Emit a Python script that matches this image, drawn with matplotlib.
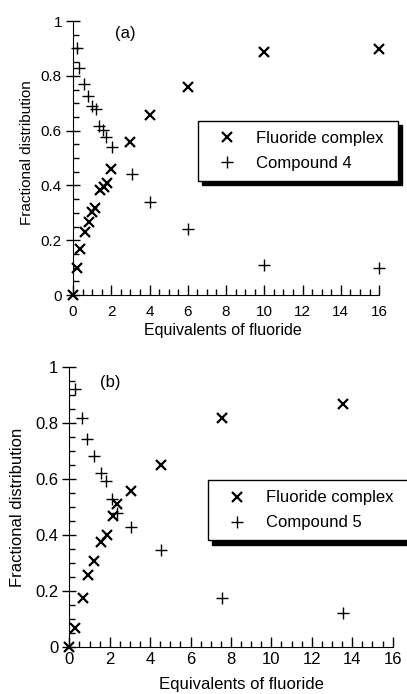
import matplotlib
matplotlib.use("Agg")
import matplotlib.pyplot as plt
from matplotlib.ticker import MultipleLocator

plt.rcParams['font.family'] = ['Liberation Sans', 'DejaVu Sans']

# Panel (a)
a_fc_x = [0, 0.23, 0.37, 0.61, 0.82, 1.0, 1.17, 1.41, 1.62, 1.76, 2.0, 3.0, 4.0, 6.0, 10.0, 16.0]
a_fc_y = [0, 0.097, 0.167, 0.231, 0.268, 0.304, 0.316, 0.383, 0.395, 0.408, 0.459, 0.56, 0.657, 0.76, 0.888, 0.897]
a_c4_x = [0.19, 0.33, 0.58, 0.78, 1.0, 1.2, 1.38, 1.55, 1.73, 2.02, 3.07, 4.03, 6.0, 10.0, 16.0]
a_c4_y = [0.90, 0.83, 0.77, 0.727, 0.69, 0.678, 0.617, 0.602, 0.578, 0.539, 0.442, 0.34, 0.24, 0.109, 0.10]

# Panel (b)
b_fc_x = [0, 0.28, 0.66, 0.93, 1.22, 1.55, 1.85, 2.15, 2.38, 3.04, 4.55, 7.54, 13.56]
b_fc_y = [0, 0.068, 0.173, 0.255, 0.308, 0.376, 0.40, 0.468, 0.511, 0.559, 0.65, 0.818, 0.869]
b_c5_x = [0.30, 0.63, 0.89, 1.24, 1.55, 1.82, 2.1, 2.38, 3.04, 4.55, 7.54, 13.56]
b_c5_y = [0.924, 0.82, 0.743, 0.683, 0.62, 0.593, 0.528, 0.477, 0.43, 0.346, 0.173, 0.122]

yticks = [0, 0.2, 0.4, 0.6, 0.8, 1]
ytick_labels = ["0", "0.2", "0.4", "0.6", "0.8", "1"]
xticks = [0, 2, 4, 6, 8, 10, 12, 14, 16]

fig = plt.figure(figsize=(4.07, 6.94), dpi=100)
ax1 = fig.add_axes([0.1794, 0.5749, 0.752, 0.3948])
ax2 = fig.add_axes([0.1703, 0.0682, 0.7944, 0.4025])


def style(ax, fs, xpad):
    ax.set_xlim(0, 16)
    ax.set_ylim(0, 1)
    ax.spines['top'].set_visible(False)
    ax.spines['right'].set_visible(False)
    ax.set_xticks(xticks)
    ax.set_yticks(yticks)
    ax.set_yticklabels(ytick_labels)
    ax.xaxis.set_minor_locator(MultipleLocator(0.5))
    ax.yaxis.set_minor_locator(MultipleLocator(0.05))
    ax.tick_params(axis='x', which='major', direction='in', length=7, width=1, labelsize=fs, pad=xpad)
    ax.tick_params(axis='x', which='minor', direction='in', length=4, width=1)
    ax.tick_params(axis='y', which='major', direction='inout', length=10, width=1, labelsize=fs, pad=3)
    ax.tick_params(axis='y', which='minor', direction='in', length=4, width=1)


def panel(ax, fx, fy, cx, cy, clabel, tag, tagpos, leg_bbox, ylab_xy, xlab_xy, fs, xpad, labfs):
    style(ax, fs, xpad)
    ax.plot(fx, fy, linestyle='none', marker='x', color='black', markersize=7.5,
            markeredgewidth=1.6, label='Fluoride complex', clip_on=False)
    ax.plot(cx, cy, linestyle='none', marker='+', color='black', markersize=8,
            markeredgewidth=1.0, label=clabel, clip_on=False)
    ax.text(tagpos[0], tagpos[1], tag, transform=ax.transAxes, fontsize=12,
            ha='center', va='center')
    ax.set_xlabel('Equivalents of fluoride', fontsize=labfs[0])
    ax.set_ylabel('Fractional distribution', fontsize=labfs[1])
    ax.yaxis.set_label_coords(ylab_xy[0], ylab_xy[1])
    ax.xaxis.set_label_coords(xlab_xy[0], xlab_xy[1])
    leg = ax.legend(loc='center', bbox_to_anchor=leg_bbox, mode='expand', fontsize=12,
                    frameon=True, fancybox=False, edgecolor='black', framealpha=1,
                    shadow={'color': 'black', 'alpha': 1, 'ox': 3, 'oy': -3},
                    borderpad=0.6, labelspacing=0.6, handlelength=2.3, handletextpad=0.6,
                    borderaxespad=0)
    leg.get_frame().set_linewidth(1.0)
    leg.set_clip_on(False)


panel(ax1, a_fc_x, a_fc_y, a_c4_x, a_c4_y, 'Compound 4', '(a)', (0.17, 0.956),
      (0.408, 0.412, 0.654, 0.23), (-0.127, 0.52), (0.49, -0.102), 11, 7, (11.5, 11))
panel(ax2, b_fc_x, b_fc_y, b_c5_x, b_c5_y, 'Compound 5', '(b)', (0.126, 0.944),
      (0.428, 0.371, 0.64, 0.233), (-0.137, 0.497), (0.531, -0.108), 12, 3.6, (12, 12))

fig.savefig('out.png', dpi=100)
